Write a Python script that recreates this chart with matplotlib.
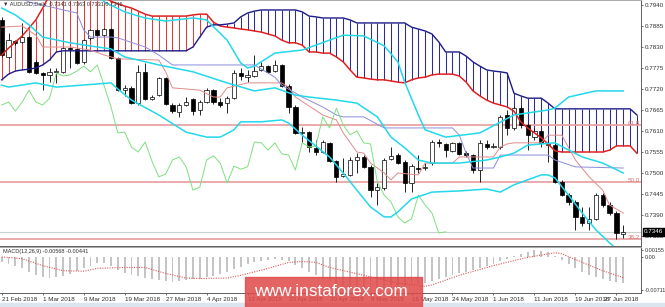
import numpy as np
import matplotlib
matplotlib.use("Agg")
import matplotlib.pyplot as plt
import matplotlib.transforms as mtransforms
from matplotlib.patches import Rectangle

plt.rcParams["font.family"] = ["Liberation Sans", "DejaVu Sans"]

# AUDUSD daily candles, 21 Feb - 28 Jun 2018
opens = [0.7901, 0.7804, 0.7846, 0.7843, 0.7856, 0.7791, 0.7762, 0.7757, 0.7765, 0.7765,
         0.7827, 0.7825, 0.7791, 0.7854, 0.7875, 0.7861, 0.7877, 0.7801, 0.7717, 0.7723,
         0.7683, 0.7765, 0.7694, 0.7704, 0.7749, 0.7678, 0.7660, 0.7678, 0.7694, 0.7665,
         0.7686, 0.7717, 0.7686, 0.7683, 0.7696, 0.7762, 0.7751, 0.7754, 0.7770, 0.7780,
         0.7767, 0.7783, 0.7728, 0.7673, 0.7605, 0.7607, 0.7566, 0.7555, 0.7579, 0.7531,
         0.7492, 0.7495, 0.7534, 0.7542, 0.7516, 0.7455, 0.7461, 0.7537, 0.7547, 0.7529,
         0.7474, 0.7513, 0.7513, 0.7526, 0.7581, 0.7576, 0.7558, 0.7579, 0.7552, 0.7547,
         0.7508, 0.7576, 0.7568, 0.7568, 0.7652, 0.7618, 0.7670, 0.7626, 0.7594, 0.7610,
         0.7573, 0.7573, 0.7477, 0.7442, 0.7424, 0.7385, 0.7369, 0.7380, 0.7442, 0.7416,
         0.7395, 0.7341]
highs = [0.7909, 0.7867, 0.7848, 0.7893, 0.7859, 0.7796, 0.7765, 0.7775, 0.7775, 0.7830,
         0.7830, 0.7827, 0.7851, 0.7877, 0.7877, 0.7880, 0.7880, 0.7804, 0.7730, 0.7728,
         0.7783, 0.7788, 0.7704, 0.7751, 0.7751, 0.7683, 0.7683, 0.7699, 0.7696, 0.7691,
         0.7723, 0.7720, 0.7696, 0.7702, 0.7770, 0.7775, 0.7770, 0.7809, 0.7791, 0.7783,
         0.7796, 0.7786, 0.7733, 0.7678, 0.7620, 0.7610, 0.7586, 0.7586, 0.7581, 0.7534,
         0.7539, 0.7542, 0.7552, 0.7547, 0.7521, 0.7474, 0.7539, 0.7568, 0.7552, 0.7534,
         0.7524, 0.7547, 0.7526, 0.7586, 0.7589, 0.7579, 0.7581, 0.7581, 0.7558, 0.7550,
         0.7586, 0.7586, 0.7579, 0.7652, 0.7665, 0.7675, 0.7675, 0.7631, 0.7618, 0.7613,
         0.7586, 0.7579, 0.7482, 0.7448, 0.7429, 0.7411, 0.7411, 0.7448, 0.7448, 0.7424,
         0.7400, 0.7363]
lows = [0.7804, 0.7801, 0.7835, 0.7841, 0.7762, 0.7759, 0.7717, 0.7738, 0.7736, 0.7762,
        0.7775, 0.7786, 0.7786, 0.7848, 0.7859, 0.7859, 0.7799, 0.7715, 0.7702, 0.7681,
        0.7678, 0.7691, 0.7691, 0.7702, 0.7678, 0.7657, 0.7647, 0.7675, 0.7652, 0.7652,
        0.7683, 0.7681, 0.7673, 0.7657, 0.7694, 0.7744, 0.7738, 0.7751, 0.7767, 0.7762,
        0.7765, 0.7725, 0.7657, 0.7602, 0.7581, 0.7555, 0.7547, 0.7552, 0.7529, 0.7476,
        0.7490, 0.7492, 0.7500, 0.7513, 0.7437, 0.7416, 0.7455, 0.7534, 0.7524, 0.7450,
        0.7450, 0.7500, 0.7508, 0.7521, 0.7568, 0.7542, 0.7555, 0.7547, 0.7542, 0.7500,
        0.7476, 0.7563, 0.7565, 0.7563, 0.7600, 0.7613, 0.7618, 0.7560, 0.7586, 0.7568,
        0.7529, 0.7474, 0.7440, 0.7416, 0.7351, 0.7361, 0.7351, 0.7377, 0.7411, 0.7390,
        0.7327, 0.7331]
closes = [0.7809, 0.7848, 0.7841, 0.7856, 0.7765, 0.7762, 0.7757, 0.7765, 0.7767, 0.7827,
          0.7825, 0.7788, 0.7848, 0.7875, 0.7861, 0.7877, 0.7801, 0.7717, 0.7723, 0.7683,
          0.7765, 0.7694, 0.7699, 0.7749, 0.7681, 0.7662, 0.7678, 0.7686, 0.7662, 0.7686,
          0.7717, 0.7686, 0.7678, 0.7696, 0.7762, 0.7754, 0.7757, 0.7767, 0.7780, 0.7765,
          0.7783, 0.7728, 0.7673, 0.7605, 0.7607, 0.7568, 0.7555, 0.7581, 0.7531, 0.7490,
          0.7497, 0.7534, 0.7542, 0.7516, 0.7455, 0.7463, 0.7534, 0.7545, 0.7526, 0.7474,
          0.7518, 0.7510, 0.7516, 0.7581, 0.7579, 0.7560, 0.7579, 0.7550, 0.7547, 0.7508,
          0.7579, 0.7568, 0.7571, 0.7647, 0.7618, 0.7670, 0.7626, 0.7600, 0.7610, 0.7579,
          0.7576, 0.7477, 0.7442, 0.7424, 0.7385, 0.7369, 0.7380, 0.7442, 0.7416, 0.7395,
          0.7343, 0.7346]

# ichimoku cloud, one value per bar (incl. 2 bars ahead)
span_a = [0.7809, 0.7827, 0.7843, 0.7859, 0.7880, 0.7901, 0.7932, 0.7966, 0.7979, 0.7985,
          0.7985, 0.7985, 0.7985, 0.7985, 0.7979, 0.7961, 0.7950, 0.7943, 0.7937, 0.7932,
          0.7924, 0.7916, 0.7911, 0.7911, 0.7911, 0.7911, 0.7911, 0.7911, 0.7914, 0.7916,
          0.7916, 0.7895, 0.7885, 0.7882, 0.7880, 0.7877, 0.7875, 0.7872, 0.7869, 0.7864,
          0.7859, 0.7848, 0.7841, 0.7841, 0.7835, 0.7817, 0.7817, 0.7814, 0.7814, 0.7804,
          0.7791, 0.7770, 0.7751, 0.7749, 0.7746, 0.7744, 0.7744, 0.7741, 0.7738, 0.7736,
          0.7744, 0.7749, 0.7751, 0.7757, 0.7759, 0.7759, 0.7759, 0.7754, 0.7738, 0.7715,
          0.7702, 0.7691, 0.7683, 0.7678, 0.7673, 0.7662, 0.7634, 0.7618, 0.7605, 0.7592,
          0.7576, 0.7558, 0.7555, 0.7555, 0.7555, 0.7555, 0.7555, 0.7555, 0.7555, 0.7560,
          0.7571, 0.7571, 0.7571, 0.7552]
span_b = [0.7744, 0.7759, 0.7767, 0.7770, 0.7772, 0.7775, 0.7783, 0.7796, 0.7817, 0.7820,
          0.7820, 0.7820, 0.7820, 0.7820, 0.7820, 0.7820, 0.7820, 0.7820, 0.7820, 0.7820,
          0.7820, 0.7820, 0.7820, 0.7820, 0.7820, 0.7820, 0.7820, 0.7820, 0.7830, 0.7856,
          0.7882, 0.7888, 0.7888, 0.7890, 0.7893, 0.7909, 0.7919, 0.7924, 0.7927, 0.7927,
          0.7927, 0.7927, 0.7927, 0.7927, 0.7922, 0.7911, 0.7909, 0.7906, 0.7906, 0.7906,
          0.7906, 0.7901, 0.7893, 0.7893, 0.7893, 0.7893, 0.7893, 0.7893, 0.7893, 0.7893,
          0.7882, 0.7877, 0.7872, 0.7864, 0.7843, 0.7817, 0.7817, 0.7817, 0.7806, 0.7791,
          0.7780, 0.7770, 0.7767, 0.7765, 0.7762, 0.7709, 0.7702, 0.7696, 0.7696, 0.7696,
          0.7683, 0.7668, 0.7668, 0.7668, 0.7668, 0.7668, 0.7668, 0.7668, 0.7668, 0.7668,
          0.7668, 0.7668, 0.7668, 0.7652]

tenkan_x = [0, 3, 5, 6, 10, 13, 15, 17, 23, 24, 25, 29, 31, 32, 33, 36, 41, 42, 43, 47,
            49, 50, 52, 53, 54, 56, 57, 58, 61, 62, 66, 67, 72, 73, 74, 75, 79, 80, 82, 84,
            86, 88, 89, 91]
tenkan = [0.7882, 0.7885, 0.7861, 0.7830, 0.7830, 0.7822, 0.7809, 0.7799, 0.7796, 0.7765,
          0.7723, 0.7717, 0.7699, 0.7699, 0.7723, 0.7736, 0.7736, 0.7725, 0.7699, 0.7652,
          0.7639, 0.7605, 0.7555, 0.7552, 0.7526, 0.7500, 0.7482, 0.7500, 0.7495, 0.7526,
          0.7526, 0.7542, 0.7542, 0.7568, 0.7576, 0.7579, 0.7579, 0.7599, 0.7599, 0.7534,
          0.7490, 0.7455, 0.7416, 0.7395]
kijun_x = [0, 4, 11, 12, 13, 16, 17, 21, 23, 25, 37, 40, 41, 44, 47, 49, 50, 53, 56, 66,
           67, 68, 69, 72, 73, 80, 81, 84, 91]
kijun = [0.7985, 0.7948, 0.7919, 0.7875, 0.7856, 0.7856, 0.7854, 0.7830, 0.7809, 0.7783,
         0.7783, 0.7751, 0.7730, 0.7699, 0.7673, 0.7652, 0.7647, 0.7647, 0.7618, 0.7618,
         0.7599, 0.7552, 0.7513, 0.7513, 0.7547, 0.7547, 0.7534, 0.7516, 0.7513]
chikou_shift = 26

# bollinger bands
bb_up_x = [14, 15, 18, 21, 24, 28, 30, 33, 35, 36, 37, 40, 44, 46, 50, 53, 56, 58, 59, 61,
           62, 65, 70, 75, 80, 81, 83, 87, 91]
bb_up = [0.7974, 0.7948, 0.7922, 0.7906, 0.7898, 0.7906, 0.7901, 0.7848, 0.7788, 0.7775,
         0.7780, 0.7814, 0.7822, 0.7835, 0.7861, 0.7859, 0.7833, 0.7791, 0.7738, 0.7652,
         0.7613, 0.7594, 0.7605, 0.7652, 0.7665, 0.7670, 0.7699, 0.7715, 0.7715]
bb_mid_x = [0, 2, 4, 6, 10, 14, 16, 18, 23, 28, 33, 37, 40, 43, 45, 49, 52, 55, 57, 59,
            61, 63, 67, 71, 73, 75, 77, 81, 83, 85, 88, 91]
bb_mid = [0.7932, 0.7914, 0.7888, 0.7856, 0.7841, 0.7830, 0.7825, 0.7804, 0.7783, 0.7765,
          0.7736, 0.7715, 0.7723, 0.7704, 0.7699, 0.7691, 0.7683, 0.7647, 0.7594, 0.7566,
          0.7534, 0.7526, 0.7526, 0.7534, 0.7542, 0.7552, 0.7573, 0.7579, 0.7560, 0.7542,
          0.7526, 0.7500]
bb_lo_x = [0, 1, 5, 8, 16, 17, 19, 23, 27, 30, 32, 34, 35, 38, 41, 42, 44, 48, 50, 52,
           54, 56, 57, 58, 60, 63, 67, 71, 73, 75, 79, 80, 81, 83, 85, 87, 89, 91]
bb_lo = [0.7730, 0.7725, 0.7736, 0.7725, 0.7736, 0.7720, 0.7691, 0.7652, 0.7607, 0.7594,
         0.7594, 0.7613, 0.7634, 0.7634, 0.7639, 0.7631, 0.7599, 0.7542, 0.7500, 0.7455,
         0.7411, 0.7385, 0.7385, 0.7398, 0.7432, 0.7450, 0.7453, 0.7458, 0.7450, 0.7469,
         0.7495, 0.7495, 0.7487, 0.7442, 0.7395, 0.7351, 0.7317, 0.7285]

fib_levels = [0.7626, 0.7476, 0.7327]
fib_labels = ["61.8", "50.0", "38.2"]

# MACD(12,26,9)
macd_hist = [-0.0010, -0.0014, -0.0018, -0.0024,
             -0.0032, -0.0038, -0.0042, -0.0044, -0.0043, -0.0040, -0.0036,
             -0.0030, -0.0024, -0.0018, -0.0013, -0.0012, -0.0018, -0.0027,
             -0.0034, -0.0038, -0.0041, -0.0044, -0.0047, -0.0050, -0.0052,
             -0.0053, -0.0052, -0.0050, -0.0048, -0.0046, -0.0043, -0.0040, -0.0036, -0.0031, -0.0026,
             -0.0020, -0.0014, -0.0010, -0.0007, -0.0005, -0.0004, -0.0005, -0.0009, -0.0016, -0.0024, -0.0032,
             -0.0039, -0.0046, -0.0052, -0.0058, -0.0063, -0.0067, -0.0070, -0.0071, -0.0071, -0.0070,
             -0.0069, -0.0067, -0.0065, -0.0063, -0.0061,
             -0.0058, -0.0055, -0.0051, -0.0047, -0.0043, -0.0039, -0.0035, -0.0031, -0.0027, -0.0023,
             -0.0019, -0.0014, -0.0009, -0.0004, 0.0002,
             0.0008, 0.0012, 0.0015, 0.0014, 0.0011,
             0.0003, -0.0006, -0.0015, -0.0024, -0.0032, -0.0038, -0.0043, -0.0047, -0.0051, -0.0054,
             -0.00568]
sig_x = [0, 3, 6, 9, 12, 14, 18, 21, 24, 27, 29, 33, 35, 39, 42, 44, 46, 48, 53, 58,
         62, 63, 67, 72, 77, 81, 82, 85, 88, 91]
sig = [0.0001, -0.0003, -0.0018, -0.0029, -0.0030, -0.0024, -0.0022, -0.0022, -0.0035, -0.0045,
       -0.0046, -0.0045, -0.0039, -0.0024, -0.0011, -0.0009, -0.0011, -0.0022, -0.0039, -0.0056,
       -0.0063, -0.0060, -0.0039, -0.0018, 0.0000, 0.0010, 0.0008, -0.0011, -0.0029, -0.00441]

price_ticks = [0.7940, 0.7885, 0.7830, 0.7775, 0.7720, 0.7665, 0.7610, 0.7555,
               0.7500, 0.7445, 0.7390, 0.7335]
macd_ticks = [0.00155, 0.0, -0.00711]
macd_tick_labels = ["0.00155", "0.00", "-0.00711"]
date_labels = ["21 Feb 2018", "1 Mar 2018", "9 Mar 2018", "19 Mar 2018", "27 Mar 2018",
               "4 Apr 2018", "12 Apr 2018", "20 Apr 2018", "30 Apr 2018", "8 May 2018",
               "16 May 2018", "24 May 2018", "1 Jun 2018", "11 Jun 2018", "19 Jun 2018",
               "27 Jun 2018"]

W, H = 665, 307


def px_rect(x0, y0, x1, y1):
    return [x0 / W, 1 - y1 / H, (x1 - x0) / W, (y1 - y0) / H]


fig = plt.figure(figsize=(W / 100, H / 100), dpi=100)
ax = fig.add_axes(px_rect(0, 0, 641, 246))
mx = fig.add_axes(px_rect(0, 247, 641, 293))

bars = np.arange(len(closes))
o = np.array(opens)
c = np.array(closes)
a = np.array(span_a)
b = np.array(span_b)
cloud_x = np.arange(len(span_a))

# cloud hatch
hatch_col = np.where(a >= b, "#e23a3a", "#2c2c9c")
ax.vlines(cloud_x, a, b, colors=hatch_col, lw=0.75, zorder=1)

for lvl, lab in zip(fib_levels, fib_labels):
    ax.axhline(lvl, color="#e8a4a4", lw=1.3, zorder=1)
    ax.text(93.4, lvl, lab, ha="right", va="baseline", color="#e07070", fontsize=4.5, zorder=5)
ax.axhline(closes[-1], color="#cfcfcf", lw=0.8, zorder=1)

# candles
ax.vlines(bars, lows, highs, color="black", lw=0.6, zorder=2)
body_col = np.where(c >= o, "white", "black")
ax.bar(bars, np.abs(c - o), bottom=np.minimum(o, c), width=0.62,
       color=body_col, edgecolor="black", lw=0.5, zorder=2)

ax.plot(cloud_x, span_a, color="#e02020", lw=1.1, zorder=3)
ax.plot(cloud_x, span_b, color="#1c1c8a", lw=1.0, zorder=3)
ax.plot(tenkan_x, tenkan, color="#e08a8a", lw=0.7, zorder=3)
ax.plot(kijun_x, kijun, color="#8c8cdc", lw=0.7, zorder=3)
ax.plot(bars[:-chikou_shift], closes[chikou_shift:], color="#7ee07e", lw=0.7, zorder=3)
for xs, ys in [(bb_up_x, bb_up), (bb_mid_x, bb_mid), (bb_lo_x, bb_lo)]:
    ax.plot(xs, ys, color="#22d8ea", lw=1.1, zorder=3)

ax.set_xlim(-0.25, 93.6)
ax.set_ylim(0.73088, 0.79531)
ax.set_xticks([])
ax.yaxis.tick_right()
ax.set_yticks(price_ticks)
ax.set_yticklabels([f"{v:.4f}" for v in price_ticks])
ax.tick_params(axis="y", length=1.5, width=0.5, pad=1.5, labelsize=4.5, colors="#303030")
ax.spines["left"].set_visible(False)
ax.spines["top"].set_color("#a8a8a8")
ax.spines["right"].set_color("#606060")
ax.spines["bottom"].set_color("#606060")
for s in ax.spines.values():
    s.set_linewidth(0.7)

ax.text(1.005, closes[-1], f"{closes[-1]:.4f}",
        transform=mtransforms.blended_transform_factory(ax.transAxes, ax.transData),
        ha="left", va="center", color="white", fontsize=4.5, zorder=6, clip_on=False,
        bbox=dict(facecolor="black", edgecolor="black", pad=0.9))
ax.text(0.004, 0.992, "\u25bc AUDUSD,Daily  %.4f %.4f %.4f %.4f"
        % (opens[-1], highs[-1], lows[-1], closes[-1]),
        transform=ax.transAxes, ha="left", va="top", fontsize=4, color="#303030")

# MACD panel
mx.bar(bars, macd_hist, width=0.28, color="#c4c4c4", zorder=2)
mx.plot(sig_x, sig, color="#e05a5a", lw=0.8, ls=(0, (1, 1.2)), zorder=3)
mx.set_xlim(-0.25, 93.6)
mx.set_ylim(-0.00775, 0.00225)
mx.yaxis.tick_right()
mx.set_yticks(macd_ticks)
mx.set_yticklabels(macd_tick_labels)
mx.tick_params(axis="y", length=1.5, width=0.5, pad=1.2, labelsize=3.9, colors="#303030")
mx.set_xticks(np.arange(0, 6 * len(date_labels), 6))
mx.set_xticklabels(date_labels, ha="left")
mx.tick_params(axis="x", length=1.5, width=0.5, pad=1.5, labelsize=4.5, colors="#303030")
last = mx.get_xticklabels()[-1]
last.set_transform(last.get_transform()
                   + mtransforms.ScaledTranslation(-0.12, 0, fig.dpi_scale_trans))
mx.spines["left"].set_visible(False)
mx.spines["top"].set_color("#a8a8a8")
mx.spines["right"].set_color("#606060")
mx.spines["bottom"].set_color("#606060")
for s in mx.spines.values():
    s.set_linewidth(0.7)
mx.text(0.004, 0.96, "MACD(12,26,9) -0.00568 -0.00441", transform=mx.transAxes,
        ha="left", va="top", fontsize=4, color="#303030")

# watermark and bottom strip
fig.patches.append(Rectangle((0, 0), 1, 4 / H, transform=fig.transFigure,
                             color="#dae5ef", zorder=9))
fig.patches.append(Rectangle((245 / W, 0), 177 / W, 30 / H, transform=fig.transFigure,
                             color="#e04848", alpha=0.85, zorder=10))
fig.text(331 / W, 1 - 292 / H, "www.instaforex.com", color="white", fontsize=12.4,
         ha="center", va="center", zorder=11)

fig.savefig("out.png", dpi=100)
